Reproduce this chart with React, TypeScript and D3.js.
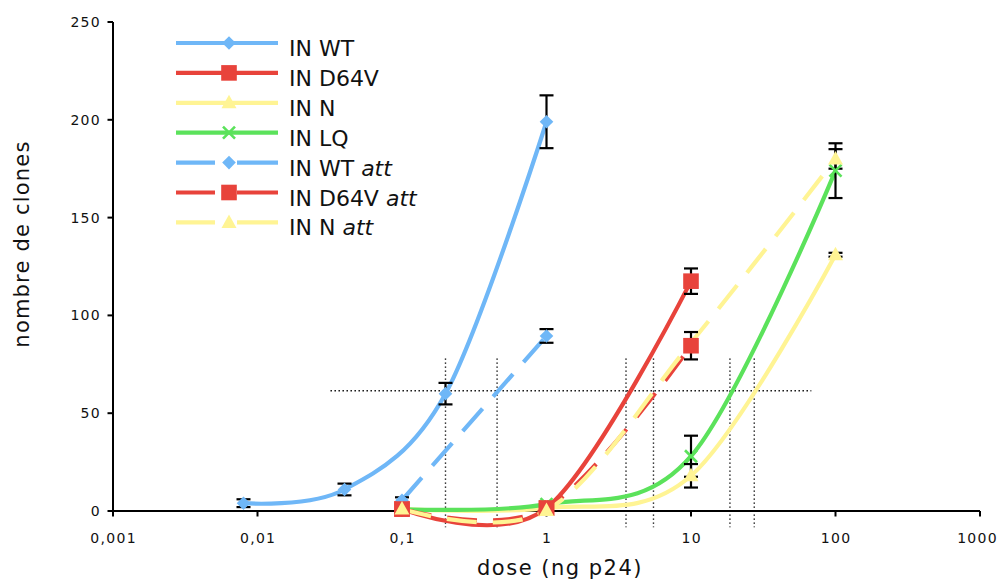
import React from 'react';
import * as d3 from 'd3';

// ---- axis ticks ----
const doseTicks = [0.001, 0.01, 0.1, 1, 10, 100, 1000];
const doseTickLabels = ['0,001', '0,01', '0,1', '1', '10', '100', '1000'];
const countTicks = [0, 50, 100, 150, 200, 250];

// ---- series data ----
const wtDose = [0.008, 0.04, 0.2, 1];
const wtValue = [4, 11, 60, 199];
const wtError = [2, 3, 5.5, 13.5];

const d64vDose = [0.1, 1, 10];
const d64vValue = [1, 1.5, 117.5];
const d64vError = [0, 0, 6.5];

const nDose = [0.1, 1, 10, 100];
const nValue = [1, 1.5, 18, 131];
const nError = [0, 0, 6, 1];

const lqDose = [0.1, 1, 10, 100];
const lqValue = [1, 3.5, 28, 174];
const lqError = [0, 0, 10.5, 14];

const wtAttDose = [0.1, 1];
const wtAttValue = [5.5, 89.5];
const wtAttError = [1.5, 3.5];

const d64vAttDose = [0.1, 1, 10];
const d64vAttValue = [1, 1.5, 84.5];
const d64vAttError = [0, 0, 7];

const nAttDose = [0.1, 1, 10, 100];
const nAttValue = [1, 0.2, 86, 180];
const nAttError = [0, 0, 0, 5];
// marker at 10 sits hidden behind the D64V att square in the reference
const nAttMarkerShown = [true, true, false, true];

// ---- dotted reference lines ----
const refLevel = 61.5;
const refLevelFrom = 0.032;
const refLevelTo = 68;
const refDoses = [0.2, 0.455, 3.55, 5.5, 18.6, 27.4];
const refDoseTop = 78;
const refDoseBottom = -8.3;

const BLUE = '#6FB7F7';
const RED = '#E8433B';
const YELLOW = '#FFF494';
const GREEN = '#5BE25B';

type Marker = 'diamond' | 'square' | 'triangle' | 'x';
interface Series {
  name: string;
  att: boolean;
  color: string;
  marker: Marker;
  dashed: boolean;
  dose: number[];
  value: number[];
  error: number[];
  shown?: boolean[];
}

const series: Series[] = [
  { name: 'IN WT', att: false, color: BLUE, marker: 'diamond', dashed: false, dose: wtDose, value: wtValue, error: wtError },
  { name: 'IN D64V', att: false, color: RED, marker: 'square', dashed: false, dose: d64vDose, value: d64vValue, error: d64vError },
  { name: 'IN N', att: false, color: YELLOW, marker: 'triangle', dashed: false, dose: nDose, value: nValue, error: nError },
  { name: 'IN LQ', att: false, color: GREEN, marker: 'x', dashed: false, dose: lqDose, value: lqValue, error: lqError },
  { name: 'IN WT', att: true, color: BLUE, marker: 'diamond', dashed: true, dose: wtAttDose, value: wtAttValue, error: wtAttError },
  { name: 'IN D64V', att: true, color: RED, marker: 'square', dashed: true, dose: d64vAttDose, value: d64vAttValue, error: d64vAttError },
  { name: 'IN N', att: true, color: YELLOW, marker: 'triangle', dashed: true, dose: nAttDose, value: nAttValue, error: nAttError, shown: nAttMarkerShown },
];

const W = 998;
const H = 581;
const x = d3.scaleLog().domain([0.001, 1000]).range([113, 980]);
const y = d3.scaleLinear().domain([0, 250]).range([511, 22]);

const FONT = '"DejaVu Sans", Verdana, sans-serif';

function MarkerShape({ type, color, cx, cy }: { type: Marker; color: string; cx: number; cy: number }) {
  if (type === 'diamond') {
    return <path d="M0,-6.8L6.8,0L0,6.8L-6.8,0Z" fill={color} transform={`translate(${cx},${cy})`} />;
  }
  if (type === 'square') {
    return <rect x={cx - 7.8} y={cy - 7.8} width={15.6} height={15.6} fill={color} />;
  }
  if (type === 'triangle') {
    return <path d="M0,-8L7.5,5.5L-7.5,5.5Z" fill={color} transform={`translate(${cx},${cy})`} />;
  }
  return (
    <g transform={`translate(${cx},${cy})`} stroke={color} strokeWidth={2.6}>
      <line x1={-6} y1={-6} x2={6} y2={6} />
      <line x1={-6} y1={6} x2={6} y2={-6} />
    </g>
  );
}

export default function App() {
  const line = d3
    .line<[number, number]>()
    .x((d) => x(d[0]))
    .y((d) => y(d[1]))
    .curve(d3.curveCardinal.tension(0));

  const legendY = (i: number) => 43 + i * 29.9;

  return (
    <div style={{ position: 'absolute', left: 0, top: 0 }}>
      <svg width={W} height={H} style={{ display: 'block', background: '#fff' }} fontFamily={FONT}>
        {/* dotted reference lines */}
        <g stroke="#000" strokeWidth={1.4} strokeDasharray="1.4 2.6" fill="none">
          <line x1={x(refLevelFrom)} x2={x(refLevelTo)} y1={y(refLevel)} y2={y(refLevel)} />
          {refDoses.map((d, i) => (
            <line key={i} x1={x(d)} x2={x(d)} y1={y(refDoseTop)} y2={y(refDoseBottom)} />
          ))}
        </g>

        {/* axes */}
        <g stroke="#000" strokeWidth={2} fill="none">
          <line x1={113} x2={113} y1={y(250)} y2={y(0)} />
          <line x1={113} x2={x(1000)} y1={y(0)} y2={y(0)} />
          {countTicks.map((t) => (
            <line key={t} x1={107.5} x2={113} y1={y(t)} y2={y(t)} />
          ))}
          {doseTicks.map((t) => (
            <line key={t} x1={x(t)} x2={x(t)} y1={y(0)} y2={y(0) + 5.5} />
          ))}
        </g>
        <g fontSize={14} fill="#111" letterSpacing={1.3}>
          {countTicks.map((t) => (
            <text key={t} x={101} y={y(t) + 5} textAnchor="end">
              {t}
            </text>
          ))}
          {doseTicks.map((t, i) => {
            const last = i === doseTicks.length - 1;
            return (
              <text
                key={t}
                x={last ? 998 : x(t) + 0.65}
                y={543}
                textAnchor={last ? 'end' : 'middle'}
              >
                {doseTickLabels[i]}
              </text>
            );
          })}
        </g>
        <text x={560} y={575} textAnchor="middle" fontSize={21} letterSpacing={1.5} fill="#111">
          dose (ng p24)
        </text>
        <text
          transform="translate(29,244) rotate(-90)"
          textAnchor="middle"
          fontSize={21}
          letterSpacing={1.2}
          fill="#111"
        >
          nombre de clones
        </text>

        {/* series lines */}
        <g fill="none" strokeWidth={4.2}>
          {series.map((s, i) => (
            <path
              key={i}
              d={line(s.dose.map((d, j) => [d, s.value[j]] as [number, number])) || ''}
              stroke={s.color}
              strokeDasharray={s.dashed ? '30 16' : undefined}
            />
          ))}
        </g>

        {/* error bars */}
        <g stroke="#000" strokeWidth={2.2} fill="none">
          {series.map((s, i) =>
            s.dose.map((d, j) =>
              s.error[j] > 0 ? (
                <g key={`${i}-${j}`}>
                  <line x1={x(d)} x2={x(d)} y1={y(s.value[j] + s.error[j])} y2={y(s.value[j] - s.error[j])} />
                  <line x1={x(d) - 7} x2={x(d) + 7} y1={y(s.value[j] + s.error[j])} y2={y(s.value[j] + s.error[j])} />
                  <line x1={x(d) - 7} x2={x(d) + 7} y1={y(s.value[j] - s.error[j])} y2={y(s.value[j] - s.error[j])} />
                </g>
              ) : null
            )
          )}
        </g>

        {/* markers */}
        <g>
          {series.map((s, i) =>
            s.dose.map((d, j) =>
              s.shown && !s.shown[j] ? null : (
                <MarkerShape key={`${i}-${j}`} type={s.marker} color={s.color} cx={x(d)} cy={y(s.value[j])} />
              )
            )
          )}
        </g>

        {/* legend */}
        <g>
          {series.map((s, i) => {
            const ly = legendY(i);
            return (
              <g key={i}>
                {s.dashed ? (
                  <g stroke={s.color} strokeWidth={4.2}>
                    <line x1={176} x2={215} y1={ly} y2={ly} />
                    <line x1={237} x2={278} y1={ly} y2={ly} />
                  </g>
                ) : (
                  <line x1={176} x2={278} y1={ly} y2={ly} stroke={s.color} strokeWidth={4.2} />
                )}
                <MarkerShape type={s.marker} color={s.color} cx={229} cy={ly} />
                <text x={289} y={ly + 13} fontSize={22} fill="#111">
                  {s.name}
                  {s.att ? <tspan fontStyle="italic">{' att'}</tspan> : null}
                </text>
              </g>
            );
          })}
        </g>
      </svg>
    </div>
  );
}
